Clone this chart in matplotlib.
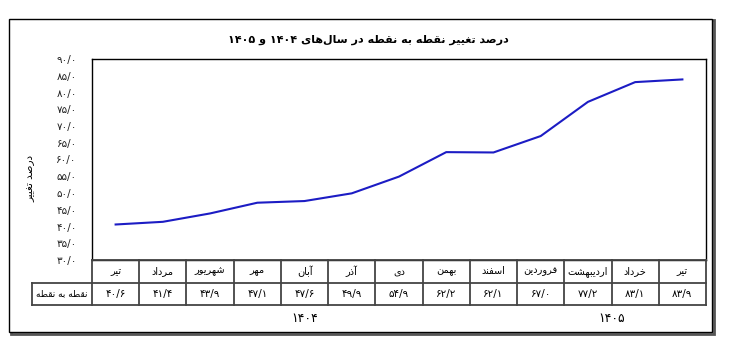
import matplotlib
matplotlib.use('Agg')
import matplotlib.pyplot as plt
from matplotlib.patches import Rectangle

# داده‌ها
months = ['تیر', 'مرداد', 'شهریور', 'مهر', 'آبان', 'آذر', 'دی', 'بهمن', 'اسفند',
          'فروردین', 'اردیبهشت', 'خرداد', 'تیر']
values = [40.6, 41.4, 43.9, 47.1, 47.6, 49.9, 54.9, 62.2, 62.1, 67.0, 77.2, 83.1, 83.9]
years = ['۱۴۰۴', '۱۴۰۵']
year_spans = [(0, 8), (9, 12)]
yticks = [30, 35, 40, 45, 50, 55, 60, 65, 70, 75, 80, 85, 90]
title = 'درصد تغییر نقطه به نقطه در سال‌های ۱۴۰۴ و ۱۴۰۵'
ylabel = 'درصد تغییر'
row_label = 'نقطه به نقطه'

# شکل‌های حروف (منفرد، پایانی، آغازی، میانی)
FORMS = {
    'ا': ('\uFE8D', '\uFE8E', None, None),
    'آ': ('\uFE81', '\uFE82', None, None),
    'ب': ('\uFE8F', '\uFE90', '\uFE91', '\uFE92'),
    'ت': ('\uFE95', '\uFE96', '\uFE97', '\uFE98'),
    'خ': ('\uFEA5', '\uFEA6', '\uFEA7', '\uFEA8'),
    'د': ('\uFEA9', '\uFEAA', None, None),
    'ذ': ('\uFEAB', '\uFEAC', None, None),
    'ر': ('\uFEAD', '\uFEAE', None, None),
    'ز': ('\uFEAF', '\uFEB0', None, None),
    'س': ('\uFEB1', '\uFEB2', '\uFEB3', '\uFEB4'),
    'ش': ('\uFEB5', '\uFEB6', '\uFEB7', '\uFEB8'),
    'ص': ('\uFEB9', '\uFEBA', '\uFEBB', '\uFEBC'),
    'ط': ('\uFEC1', '\uFEC2', '\uFEC3', '\uFEC4'),
    'غ': ('\uFECD', '\uFECE', '\uFECF', '\uFED0'),
    'ف': ('\uFED1', '\uFED2', '\uFED3', '\uFED4'),
    'ق': ('\uFED5', '\uFED6', '\uFED7', '\uFED8'),
    'ل': ('\uFEDD', '\uFEDE', '\uFEDF', '\uFEE0'),
    'م': ('\uFEE1', '\uFEE2', '\uFEE3', '\uFEE4'),
    'ن': ('\uFEE5', '\uFEE6', '\uFEE7', '\uFEE8'),
    'ه': ('\uFEE9', '\uFEEA', '\uFEEB', '\uFEEC'),
    'و': ('\uFEED', '\uFEEE', None, None),
    'ی': ('\uFEEF', '\uFEF0', '\uFEF3', '\uFEF4'),
}


def shape_word(w):
    out = []
    for i, c in enumerate(w):
        if c not in FORMS:
            if c != '\u200c':
                out.append(c)
            continue
        prev = w[i - 1] if i > 0 else None
        nxt = w[i + 1] if i + 1 < len(w) else None
        jp = prev in FORMS and FORMS[prev][2] is not None
        jn = FORMS[c][2] is not None and nxt in FORMS
        iso, fin, ini, med = FORMS[c]
        if jp and jn:
            out.append(med)
        elif jp:
            out.append(fin)
        elif jn:
            out.append(ini)
        else:
            out.append(iso)
    return ''.join(out)


def fa(text):
    words = text.split(' ')[::-1]
    res = []
    for w in words:
        if any(c in FORMS for c in w):
            res.append(shape_word(w)[::-1])
        else:
            res.append(w)
    return ' '.join(res)


def fa_num(v):
    s = f'{v:.1f}'.replace('.', '/')
    return s.translate(str.maketrans('0123456789', '۰۱۲۳۴۵۶۷۸۹'))


plt.rcParams['font.family'] = ['DejaVu Sans']
W, H = 735, 359
fig = plt.figure(figsize=(W / 100, H / 100), dpi=100)

# قاب بیرونی
fig.patches.append(Rectangle((11 / W, 1 - 334 / H), 703 / W, 314 / H, transform=fig.transFigure,
                             fill=False, edgecolor='#555555', linewidth=2, zorder=-2))
fig.patches.append(Rectangle((9 / W, 1 - 332 / H), 703 / W, 313 / H, transform=fig.transFigure,
                             fill=True, facecolor='white', edgecolor='black', linewidth=1, zorder=-1))

x0, x1 = 92, 706
ax = fig.add_axes([x0 / W, 1 - 260 / H, (x1 - x0) / W, 201 / H])
ax.patch.set_alpha(0)
xs = list(range(len(values)))
ax.plot(xs, values, color='#1c1cc4', linewidth=1.5)
ax.set_xlim(-0.5, len(values) - 0.5)
ax.set_ylim(30, 90)
ax.set_yticks(yticks)
ax.set_yticklabels([fa_num(v) for v in yticks], fontsize=7.5, color='#222222')
ax.set_xticks([])
ax.tick_params(axis='y', length=0, pad=11)
for s in ax.spines.values():
    s.set_linewidth(1)
    s.set_color('black')

fig.text(368 / W, 1 - 40 / H, fa(title), ha='center', va='center', fontsize=8, fontweight='bold')
fig.text(30 / W, 1 - 178 / H, fa(ylabel), ha='center', va='center', rotation=90, fontsize=7.5)

# جدول داده
tab = fig.add_axes([x0 / W, 1 - 305 / H, (x1 - x0) / W, 45 / H])
tab.set_xlim(-0.5, len(values) - 0.5)
tab.set_ylim(2, 0)
tab.axis('off')
lc = '#444444'
lw = 1.3
tab.plot([-0.5, len(values) - 0.5], [0, 0], color=lc, lw=lw, clip_on=False)
tab.plot([-0.5, len(values) - 0.5], [1, 1], color=lc, lw=lw, clip_on=False)
tab.plot([-1.77, len(values) - 0.5], [2, 2], color=lc, lw=lw, clip_on=False)
tab.plot([-1.77, -1.77], [1, 2], color=lc, lw=lw, clip_on=False)
tab.plot([-1.77, -0.5], [1, 1], color=lc, lw=lw, clip_on=False)
for i in range(len(values) + 1):
    tab.plot([i - 0.5, i - 0.5], [0, 2], color=lc, lw=lw, clip_on=False)
for i, (m, v) in enumerate(zip(months, values)):
    tab.text(i, 0.5, fa(m), ha='center', va='center', fontsize=7)
    tab.text(i, 1.5, fa_num(v), ha='center', va='center', fontsize=7.5)
tab.text(-1.135, 1.5, fa(row_label), ha='center', va='center', fontsize=6.5)
for y, (a, b) in zip(years, year_spans):
    tab.text((a + b) / 2, 2.62, y, ha='center', va='center', fontsize=9, clip_on=False)

fig.savefig('out.png', dpi=100)
